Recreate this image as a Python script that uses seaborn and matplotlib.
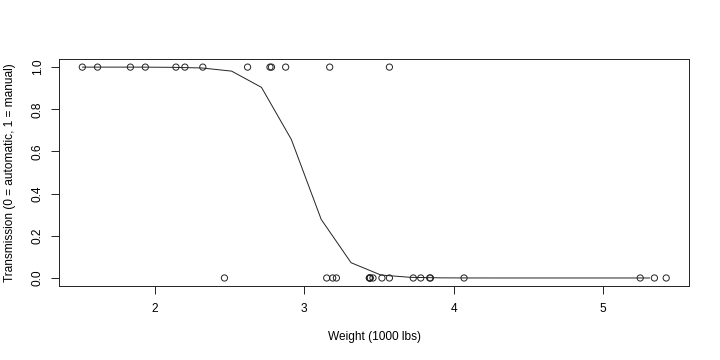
import matplotlib
matplotlib.use("Agg")
import matplotlib.pyplot as plt
import seaborn as sns
import pandas as pd

# mtcars weight and transmission
wt = [2.620, 2.875, 2.320, 3.215, 3.440, 3.460, 3.570, 3.190, 3.150, 3.440,
      3.440, 4.070, 3.730, 3.780, 5.250, 5.424, 5.345, 2.200, 1.615, 1.835,
      2.465, 3.520, 3.435, 3.840, 3.845, 1.935, 2.140, 1.513, 3.170, 2.770,
      3.570, 2.780]
am = [1, 1, 1, 0, 0, 0, 0, 0, 0, 0,
      0, 0, 0, 0, 0, 0, 0, 1, 1, 1,
      0, 0, 0, 0, 0, 1, 1, 1, 1, 1,
      1, 1]

# fitted curve
curve_x = [1.513, 1.713, 1.913, 2.113, 2.313, 2.513, 2.713, 2.913, 3.113, 3.313,
           3.513, 3.713, 3.913, 4.113, 4.313, 4.513, 4.713, 4.913, 5.113, 5.313]
curve_y = [1.000, 1.000, 1.000, 0.999, 0.996, 0.981, 0.904, 0.657, 0.278, 0.0725,
           0.014, 0.003, 0.0006, 0.0001, 0.0, 0.0, 0.0, 0.0, 0.0, 0.0]

xticks = [2, 3, 4, 5]
yticks = [0.0, 0.2, 0.4, 0.6, 0.8, 1.0]
ytick_labels = ["0.0", "0.2", "0.4", "0.6", "0.8", "1.0"]

pts = pd.DataFrame({"wt": wt, "am": am})
fit = pd.DataFrame({"x": curve_x, "y": curve_y})

sns.set_theme(style="ticks")
plt.rcParams['font.family'] = ['Liberation Sans', 'DejaVu Sans']

fig = plt.figure(figsize=(7.2, 3.6), dpi=100)
ax = fig.add_axes([0.082, 0.2044, 0.8756, 0.6326])

sns.scatterplot(data=pts, x="wt", y="am", ax=ax, marker="o", s=20,
                facecolor="none", edgecolor="#222222", linewidth=0.7, zorder=3)
sns.lineplot(data=fit, x="x", y="y", ax=ax, color="#222222", linewidth=0.7,
             estimator=None, sort=False, zorder=2)

ax.set_xlim(1.357, 5.580)
ax.set_ylim(-0.04, 1.04)
ax.set_xticks(xticks)
ax.set_xticklabels([str(t) for t in xticks], fontsize=8.6)
ax.set_yticks(yticks)
ax.set_yticklabels(ytick_labels, fontsize=8.6, rotation=90, va="center")
ax.tick_params(axis="both", direction="out", length=6, width=0.7, color="#222222",
               labelcolor="black")
ax.tick_params(axis="x", pad=6)
ax.tick_params(axis="y", pad=5)
for sp in ax.spines.values():
    sp.set_visible(True)
    sp.set_color("#222222")
    sp.set_linewidth(0.7)

ax.set_xlabel("Weight (1000 lbs)", fontsize=8.6, color="black")
ax.set_ylabel("Transmission (0 = automatic, 1 = manual)", fontsize=8.6,
              color="black")
ax.xaxis.set_label_coords(0.5, -45 / 228)
ax.yaxis.set_label_coords(-43 / 630, 0.5)

fig.savefig("out.png", dpi=100, facecolor="white")
